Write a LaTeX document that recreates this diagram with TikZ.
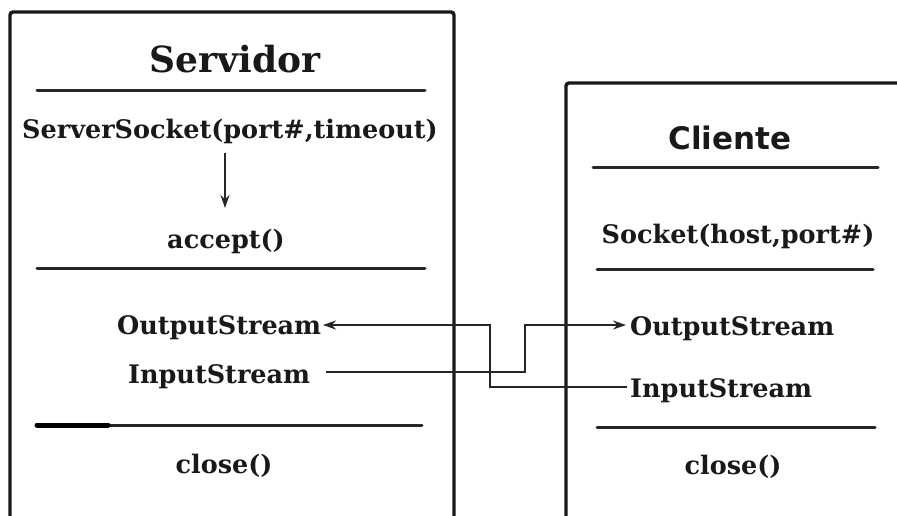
\documentclass[tikz,border=0pt]{standalone}
\usepackage{fontspec}
\setmainfont{DejaVu Serif}
\newfontfamily\clifont{DejaVu Sans}
\usetikzlibrary{arrows.meta}
\tikzset{
  boxline/.style={line width=3.4pt, draw=black!90},
  sepline/.style={line width=3pt, draw=black!85, line cap=round},
  conn/.style={line width=2pt, draw=black!85},
  lbl/.style={inner sep=0pt, font=\fontsize{25.5}{30}\selectfont\bfseries, text=black!90},
  title/.style={inner sep=0pt, font=\fontsize{36}{40}\selectfont\bfseries, text=black!90},
  ctitle/.style={inner sep=0pt, font=\clifont\fontsize{31}{36}\selectfont\bfseries, text=black!90},
  tip/.style={-{Stealth[length=13pt,width=9pt]}}
}
\begin{document}
\begin{tikzpicture}[x=1pt,y=-1pt]
\useasboundingbox[fill=white] (0,0) rectangle (897,515);
% boxes
\draw[boxline, rounded corners=3pt] (10,530) -- (10,12) -- (454,12) -- (454,530);
\draw[boxline, rounded corners=3pt] (566,530) -- (566,83) -- (905,83);
% server separators
\draw[sepline] (37,90) -- (425,90);
\draw[sepline] (37,268) -- (425,268);
\draw[sepline] (37,425) -- (422,425);
\draw[line width=5pt, line cap=round, draw=black] (37,425) -- (108,425);
% client separators
\draw[sepline] (593,167) -- (878,167);
\draw[sepline] (597,269) -- (873,269);
\draw[sepline] (597,427) -- (875,427);
% server texts
\node[title, anchor=base] (srv) at (235,72) {Servidor};
\node[lbl, anchor=base] (ss) at (230,138) {ServerSocket(port\#,timeout)};
\node[lbl, anchor=base] (acc) at (226,248) {accept()};
\node[lbl, anchor=base west] (sout) at (117,334) {OutputStream};
\node[lbl, anchor=base west] (sin) at (128,383) {InputStream};
\node[lbl, anchor=base] (sclose) at (224,473) {close()};
% client texts
\node[ctitle, anchor=base] (cli) at (730,149) {Cliente};
\node[lbl, anchor=base] (sock) at (738,243) {Socket(host,port\#)};
\node[lbl, anchor=base west] (cout) at (630,335) {OutputStream};
\node[lbl, anchor=base west] (cin) at (630,397) {InputStream};
\node[lbl, anchor=base] (cclose) at (733,474) {close()};
% arrows
\coordinate (a1) at (225,153);
\coordinate (a2) at (225,208);
\draw[conn, tip] (a1) -- (a2);
\coordinate (p1) at (490,387);
\coordinate (p2) at (490,325);
\coordinate (q1) at (525,372);
\coordinate (q2) at (525,325);
\draw[conn, tip] (627,387) -- (p1) -- (p2) -- (323,325);
\draw[conn, tip] (326,372) -- (q1) -- (q2) -- (626,325);
\end{tikzpicture}
\end{document}
